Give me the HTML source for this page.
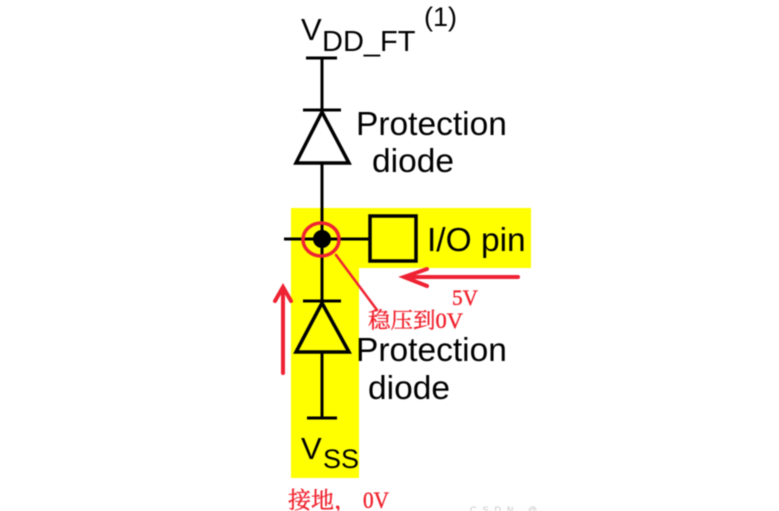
<!DOCTYPE html>
<html>
<head>
<meta charset="utf-8">
<style>
html,body{margin:0;padding:0;background:#fff;width:779px;height:511px;overflow:hidden}
svg{display:block;filter:blur(0.45px)}
.s{font-family:"Liberation Sans",sans-serif;fill:#000}
.c{font-family:"Liberation Serif","Noto Serif CJK SC",serif;fill:#f0202c;stroke:#f0202c;stroke-width:.35}
</style>
</head>
<body>
<svg width="779" height="511" viewBox="0 0 779 511" xmlns="http://www.w3.org/2000/svg">
<rect width="779" height="511" fill="#fff"/>
<path d="M291 208H531V268H359V478H291Z" fill="#ffff00"/>
<g stroke="#000" stroke-width="3" fill="none">
<path d="M322 58V112M306 58H337M303 110H341"/>
<path d="M322 112L296 163H349Z" stroke-width="3.5"/>
<path d="M322 163V301M284 239H370"/>
<rect x="370" y="216" width="46" height="45" stroke-width="3.5"/>
<path d="M303 301H341"/>
<path d="M322 303L296 352H349Z" stroke-width="3.5"/>
<path d="M322 352V418M307 418H337"/>
</g>
<circle cx="322" cy="239" r="9" fill="#000"/>
<g stroke="#ee2233" fill="none" stroke-linecap="round">
<ellipse cx="321" cy="239.5" rx="18" ry="16.5" stroke-width="3.5"/>
<path d="M336 255L377 310" stroke-width="2.5"/>
<path d="M518 277H405M427 269L404 277L427 286" stroke-width="4"/>
<path d="M283 373V288M275 301L283 287L291 301" stroke-width="4"/>
</g>
<text class="s" x="301" y="40" font-size="31">V</text>
<text class="s" x="322" y="51" font-size="29">DD_FT</text>
<text class="s" x="424" y="26" font-size="27">(1)</text>
<text class="s" x="356" y="135" font-size="33.5">Protection</text>
<text class="s" x="372" y="172" font-size="33.5">diode</text>
<text class="s" x="427" y="251" font-size="33.5">I/O pin</text>
<text class="s" x="356" y="361" font-size="33.5">Protection</text>
<text class="s" x="368" y="399" font-size="33.5">diode</text>
<text class="s" x="301" y="459" font-size="31">V</text>
<text class="s" x="323" y="468" font-size="27">SS</text>
<text class="c" x="452" y="305" font-size="22" textLength="26" lengthAdjust="spacingAndGlyphs">5V</text>
<text class="c" x="368" y="328" font-size="22" textLength="95" lengthAdjust="spacingAndGlyphs">稳压到0V</text>
<text class="c" x="288" y="508" font-size="23">接地，</text>
<text class="c" x="363" y="508" font-size="23" textLength="26" lengthAdjust="spacingAndGlyphs">0V</text>
<text x="470" y="513" font-size="9" fill="#c4c4c4" font-family="Liberation Sans, sans-serif" textLength="67">CSDN @</text>
</svg>
</body>
</html>
